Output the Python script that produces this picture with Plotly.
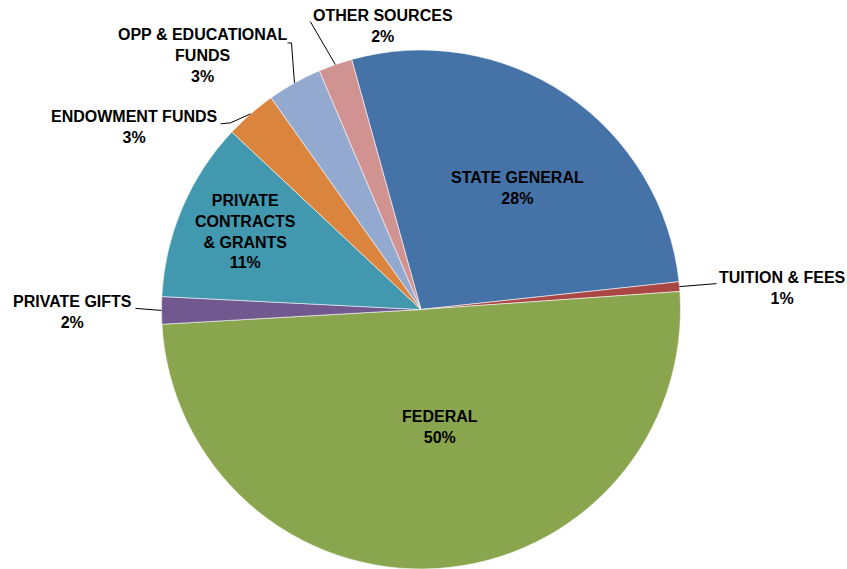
import math
import plotly.graph_objects as go

# ---------------- data ----------------
categories = ["STATE GENERAL", "TUITION & FEES", "FEDERAL", "PRIVATE GIFTS",
              "PRIVATE CONTRACTS & GRANTS", "ENDOWMENT FUNDS",
              "OPP & EDUCATIONAL FUNDS", "OTHER SOURCES"]
label_lines = ["STATE GENERAL", "TUITION & FEES", "FEDERAL", "PRIVATE GIFTS",
               "PRIVATE<br>CONTRACTS<br>& GRANTS", "ENDOWMENT FUNDS",
               "OPP & EDUCATIONAL<br>FUNDS", "OTHER SOURCES"]
values = [27.6, 0.6, 50.2, 1.7, 11.2, 3.2, 3.4, 2.1]
colors = ["#4572A7", "#AA4643", "#89A54E", "#71588F",
          "#4198AF", "#DB843D", "#93A9CF", "#D19392"]

# ---------------- layout / style ----------------
W, H = 847, 569
CX, CY, R = 421.0, 309.5, 259.5
ROTATION = -15.5
FONT = dict(family="Liberation Sans, Arial, sans-serif", size=16, color="black")

# label style: ("in", r_frac, dx, dy) or ("out", [leader offsets], (text dx, dy))
label_style = {
    "STATE GENERAL": ("in", 0.60, 9, 7.5),
    "FEDERAL": ("in", 0.45, 12, 1),
    "PRIVATE CONTRACTS & GRANTS": ("in", 0.72, -4, -5),
    "TUITION & FEES": ("out", [(37, -3)], (103, 1)),
    "PRIVATE GIFTS": ("out", [(-26, -2)], (-89, 2)),
    "ENDOWMENT FUNDS": ("out", [(-20, 9), (-30, 10)], (-116, 13)),
    "OPP & EDUCATIONAL FUNDS": ("out", [(-3, -40), (-7, -40)], (-92, -27)),
    "OTHER SOURCES": ("out", [(-25, -43)], (48, -39)),
}


def px2paper(x, y):
    return x / W, 1 - y / H


fig = go.Figure(go.Pie(
    labels=categories,
    values=values,
    sort=False,
    direction="clockwise",
    rotation=ROTATION,
    marker=dict(colors=colors, line=dict(color="rgba(255,255,255,0.7)", width=0.8)),
    textinfo="none",
    hoverinfo="label+percent",
    showlegend=False,
    domain=dict(x=[(CX - R) / W, (CX + R) / W], y=[1 - (CY + R) / H, 1 - (CY - R) / H]),
))

total = sum(values)
cum = ROTATION
annotations = []
shapes = []
for cat, txt, v in zip(categories, label_lines, values):
    span = v / total * 360.0
    mid = math.radians(cum + span / 2)
    cum += span
    pct = f"{round(v / total * 100):.0f}%"
    text = f"<b>{txt}<br>{pct}</b>"
    st = label_style[cat]
    if st[0] == "in":
        _, rf, dx, dy = st
        tx = CX + rf * R * math.sin(mid) + dx
        ty = CY - rf * R * math.cos(mid) + dy
    else:
        _, pts, (tdx, tdy) = st
        ex = CX + R * math.sin(mid)
        ey = CY - R * math.cos(mid)
        path_pts = [(ex, ey)] + [(ex + ox, ey + oy) for ox, oy in pts]
        p = []
        for i, (x, y) in enumerate(path_pts):
            px, py = px2paper(x, y)
            p.append(("M" if i == 0 else "L") + f"{px:.5f},{py:.5f}")
        shapes.append(dict(type="path", xref="paper", yref="paper", path=" ".join(p),
                           line=dict(color="black", width=1)))
        tx, ty = ex + tdx, ey + tdy
    ax_, ay_ = px2paper(tx, ty)
    annotations.append(dict(x=ax_, y=ay_, xref="paper", yref="paper", text=text,
                            showarrow=False, xanchor="center", yanchor="middle",
                            align="center", font=FONT))

fig.update_layout(
    width=W, height=H,
    margin=dict(l=0, r=0, t=0, b=0),
    paper_bgcolor="white",
    plot_bgcolor="white",
    annotations=annotations,
    shapes=shapes,
)

fig.write_html("out.html", config={"displayModeBar": False},
               post_script="document.body.style.margin='0';")
